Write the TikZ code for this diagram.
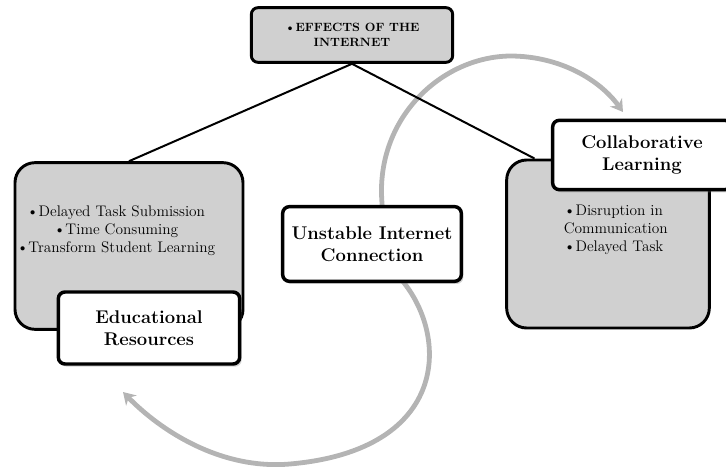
\documentclass[tikz,border=0pt]{standalone}
\usepackage{tikz}
\usetikzlibrary{arrows.meta, shadows}

\definecolor{boxgray}{RGB}{208,208,208}
\definecolor{arcgray}{RGB}{180,180,180}

\begin{document}
\begin{tikzpicture}[
            x = 0.75pt, y = -0.75pt, % pixel grid, y runs down
            > = {Stealth[length=9pt, width=11pt]}, % arrow head style
            semithick % line style
        ]

        \tikzstyle{headbox}=[
            draw = black,
            line width = 2.2pt,
            fill = boxgray,
            rounded corners = 5pt,
            align = center,
            font = \fontsize{9}{11}\selectfont\bfseries
        ]
        \tikzstyle{backbox}=[
            draw = black,
            line width = 2.2pt,
            fill = boxgray,
            rounded corners = 15pt
        ]
        \tikzstyle{titlebox}=[
            draw = black,
            line width = 2.6pt,
            fill = white,
            rounded corners = 5pt,
            align = center,
            drop shadow = {opacity=0.35, shadow xshift=1.5pt, shadow yshift=-2pt},
            font = \fontsize{13.8}{16.5}\selectfont\bfseries
        ]
        \tikzstyle{itemtext}=[
            font = \fontsize{11.5}{13.5}\selectfont
        ]
        \tikzstyle{cyclearc}=[
            draw = arcgray,
            line width = 3.6pt,
            line cap = round
        ]

        \clip (0,0) rectangle (726,470);

        % gray cycle behind everything
        \coordinate (arcedu) at (123,392);
        \coordinate (arccol) at (623,112);
        \draw[cyclearc, <->] (arcedu) .. controls (160,430) and (220,470) .. (290,464)
            .. controls (450,450) and (450,335) .. (400,278)
            .. controls (390,262) and (384,240) .. (382,203)
            .. controls (375,120) and (440,57) .. (510,56)
            .. controls (560,56) and (600,80) .. (arccol);

        \node[headbox, minimum width=151pt, minimum height=41pt] (effects) at (352,35) {\textbullet EFFECTS OF THE\\INTERNET};

        \node[backbox, minimum width=171pt, minimum height=125pt] (eduback) at (129,246) {};
        \node[itemtext, align=center] (edulist) at (116,231) {\textbullet Delayed Task Submission\\\textbullet Time Consuming\\\textbullet Transform Student Learning};

        \node[backbox, minimum width=152pt, minimum height=126pt] (colback) at (608,244) {};
        \node[itemtext, align=left, anchor=west] (collist) at (559,230) {\textbullet Disruption in\\Communication\\\textbullet Delayed Task};

        \draw[line width=1.5pt] (effects.south) -- (eduback.north);
        \draw[line width=1.5pt] (effects.south) -- ([xshift=22pt]colback.north west);

        \node[titlebox, minimum width=136pt, minimum height=54pt] (edu) at (149,328) {Educational\\Resources};
        \node[titlebox, minimum width=134pt, minimum height=52pt] (collab) at (642,155) {Collaborative\\Learning};
        \node[titlebox, minimum width=134pt, minimum height=56pt] (unstable) at (372,244) {Unstable Internet\\Connection};
    \end{tikzpicture}
\end{document}
